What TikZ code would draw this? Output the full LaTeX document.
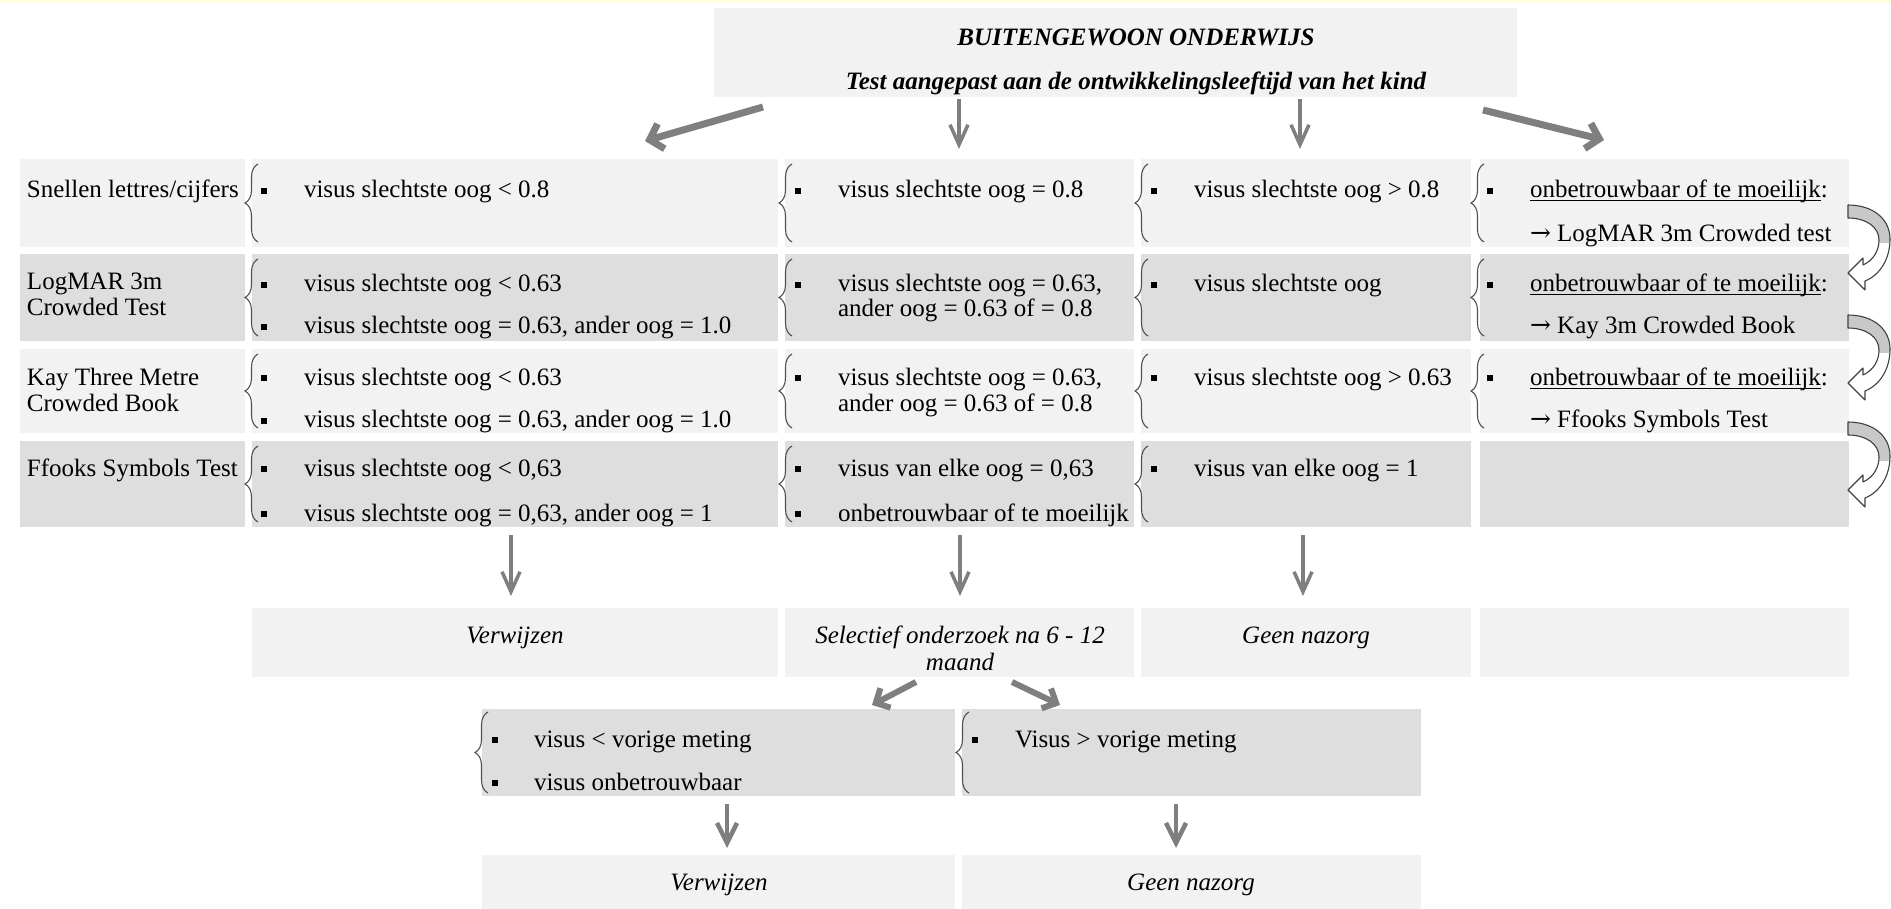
\documentclass[tikz,border=0pt]{standalone}
\usepackage{fontspec}
\setmainfont{Liberation Serif}
\newfontfamily\arrfont{DejaVu Serif}
\usetikzlibrary{arrows.meta,decorations.pathreplacing}
\definecolor{lightc}{HTML}{F2F2F2}
\definecolor{darkc}{HTML}{DEDEDE}
\definecolor{arrowc}{HTML}{7F7F7F}
\definecolor{bandc}{HTML}{FFFFE0}
\definecolor{bracec}{HTML}{505050}
\definecolor{foldc}{HTML}{C8C8C8}
\definecolor{curvec}{HTML}{404040}
\newcommand\mkcell[6]{\node[fill=#6,draw=none,inner sep=0pt,outer sep=0pt,anchor=north west,minimum width={(#4-#2)*1pt},minimum height={(#5-#3)*1pt}] (#1) at (#2,#3) {};}
\newcommand\bul[2]{\fill ({#1-2.8},{#2-2.8}) rectangle ({#1+2.8},{#2+2.8});}
\newcommand\brc[3]{\draw[bracestyle] (#1,#3) -- (#1,#2);}
\newcommand\ulnode[3]{%
\node[txt] (#1) at (#2) {#3};
\node[txt] (#1c) at (#1.base east) {:};
\draw[line width=1pt] ([yshift=-3pt]#1.base west) -- ([yshift=-3pt]#1.base east);}
\newcommand\curvarr[2]{%
\begin{scope}[shift={(#1,#2)}]
\path[fill=white] (0,0) .. controls (25,0) and (42,14) .. (42,34) .. controls (42,54) and (32,70) .. (17,76) -- (17,85) -- (0,68) -- (15,53) -- (15,60) .. controls (26,55) and (31,45) .. (31,35) .. controls (31,22) and (18,13) .. (0,13) -- cycle;
\begin{scope}
\clip (-2,-2) rectangle (50,38);
\fill[foldc] (0,0) .. controls (25,0) and (42,14) .. (42,34) .. controls (42,54) and (32,70) .. (17,76) -- (17,85) -- (0,68) -- (15,53) -- (15,60) .. controls (26,55) and (31,45) .. (31,35) .. controls (31,22) and (18,13) .. (0,13) -- cycle;
\end{scope}
\draw[draw=curvec,line width=1.1pt,line join=round] (0,0) .. controls (25,0) and (42,14) .. (42,34) .. controls (42,54) and (32,70) .. (17,76) -- (17,85) -- (0,68) -- (15,53) -- (15,60) .. controls (26,55) and (31,45) .. (31,35) .. controls (31,22) and (18,13) .. (0,13) -- cycle;
\end{scope}}
\begin{document}
\begin{tikzpicture}[x=1pt,y=-1pt,
 txt/.style={anchor=base west,inner sep=0pt,outer sep=0pt,font=\fontsize{25}{28}\selectfont},
 ctr/.style={anchor=base,inner sep=0pt,outer sep=0pt,font=\fontsize{25}{28}\selectfont\itshape},
 ttl/.style={anchor=base,inner sep=0pt,outer sep=0pt,font=\fontsize{25}{28}\selectfont\bfseries\itshape},
 bracestyle/.style={draw=bracec,line width=1.1pt,decorate,decoration={brace,amplitude=13pt}},
 varr/.style={draw=arrowc,line width=3.5pt,-{Straight Barb[length=20pt,width=18pt]}},
 darr/.style={draw=arrowc,line width=7pt,-{Straight Barb[length=12pt,width=26pt]}},
 marr/.style={draw=arrowc,line width=6pt,-{Straight Barb[length=11pt,width=22pt]}},
 sarr/.style={draw=arrowc,line width=4.5pt,-{Straight Barb[length=20pt,width=20pt]}}
]
\useasboundingbox (0,0) rectangle (1891,909);
\fill[white] (0,0) rectangle (1891,909);
\fill[bandc] (0,0) rectangle (1891,3);

% title
\mkcell{title}{714}{8}{1517}{97}{lightc}
\node[ttl] (t1) at (1136,46) {BUITENGEWOON ONDERWIJS};
\node[ttl] (t2) at (1136,90) {Test aangepast aan de ontwikkelingsleeftijd van het kind};

% cells
\mkcell{r1l}{20}{159}{245}{247}{lightc}
\mkcell{r1a}{252}{159}{778}{247}{lightc}
\mkcell{r1b}{785}{159}{1134}{247}{lightc}
\mkcell{r1c}{1141}{159}{1471}{247}{lightc}
\mkcell{r1d}{1480}{159}{1849}{247}{lightc}
\mkcell{r2l}{20}{254}{245}{341}{darkc}
\mkcell{r2a}{252}{254}{778}{341}{darkc}
\mkcell{r2b}{785}{254}{1134}{341}{darkc}
\mkcell{r2c}{1141}{254}{1471}{341}{darkc}
\mkcell{r2d}{1480}{254}{1849}{341}{darkc}
\mkcell{r3l}{20}{349}{245}{433}{lightc}
\mkcell{r3a}{252}{349}{778}{433}{lightc}
\mkcell{r3b}{785}{349}{1134}{433}{lightc}
\mkcell{r3c}{1141}{349}{1471}{433}{lightc}
\mkcell{r3d}{1480}{349}{1849}{433}{lightc}
\mkcell{r4l}{20}{441}{245}{527}{darkc}
\mkcell{r4a}{252}{441}{778}{527}{darkc}
\mkcell{r4b}{785}{441}{1134}{527}{darkc}
\mkcell{r4c}{1141}{441}{1471}{527}{darkc}
\mkcell{r4d}{1480}{441}{1849}{527}{darkc}
\mkcell{oa}{252}{608}{778}{677}{lightc}
\mkcell{ob}{785}{608}{1134}{677}{lightc}
\mkcell{oc}{1141}{608}{1471}{677}{lightc}
\mkcell{od}{1480}{608}{1849}{677}{lightc}
\mkcell{sl}{482}{709}{955}{796}{darkc}
\mkcell{sr}{962}{709}{1421}{796}{darkc}
\mkcell{fl}{482}{855}{955}{909}{lightc}
\mkcell{fr}{962}{855}{1421}{909}{lightc}

% braces
\foreach \yt/\yb in {159/247,254/341,349/433}{
  \brc{258}{\yt+5}{\yb-5}
  \brc{792}{\yt+5}{\yb-5}
  \brc{1148}{\yt+5}{\yb-5}
  \brc{1484}{\yt+5}{\yb-5}
}
\brc{258}{446}{522}
\brc{792}{446}{522}
\brc{1148}{446}{522}
\brc{488}{712}{793}
\brc{969}{712}{793}

% row 1
\node[txt] (l1) at (27,198) {Snellen lettres/cijfers};
\bul{264}{191}\node[txt] (a1) at (304,198) {visus slechtste oog < 0.8};
\bul{798}{191}\node[txt] (b1) at (838,198) {visus slechtste oog = 0.8};
\bul{1154}{191}\node[txt] (c1) at (1194,198) {visus slechtste oog > 0.8};
\bul{1490}{191}\ulnode{d1a}{1530,198}{onbetrouwbaar of te moeilijk}
\node[txt] (d1b) at (1530,242) {{\arrfont →} LogMAR 3m Crowded test};

% row 2
\node[txt] (l2a) at (27,290) {LogMAR 3m};
\node[txt] (l2b) at (27,316) {Crowded Test};
\bul{264}{285}\node[txt] (a2a) at (304,292) {visus slechtste oog < 0.63};
\bul{264}{327}\node[txt] (a2b) at (304,334) {visus slechtste oog = 0.63, ander oog = 1.0};
\bul{798}{285}\node[txt] (b2a) at (838,292) {visus slechtste oog = 0.63,};
\node[txt] (b2b) at (838,317) {ander oog = 0.63 of = 0.8};
\bul{1154}{285}\node[txt] (c2) at (1194,292) {visus slechtste oog};
\bul{1490}{285}\ulnode{d2a}{1530,292}{onbetrouwbaar of te moeilijk}
\node[txt] (d2b) at (1530,334) {{\arrfont →} Kay 3m Crowded Book};

% row 3
\node[txt] (l3a) at (27,385) {Kay Three Metre};
\node[txt] (l3b) at (27,411) {Crowded Book};
\bul{264}{378}\node[txt] (a3a) at (304,385) {visus slechtste oog < 0.63};
\bul{264}{421}\node[txt] (a3b) at (304,428) {visus slechtste oog = 0.63, ander oog = 1.0};
\bul{798}{378}\node[txt] (b3a) at (838,385) {visus slechtste oog = 0.63,};
\node[txt] (b3b) at (838,411) {ander oog = 0.63 of = 0.8};
\bul{1154}{378}\node[txt] (c3) at (1194,385) {visus slechtste oog > 0.63};
\bul{1490}{378}\ulnode{d3a}{1530,385}{onbetrouwbaar of te moeilijk}
\node[txt] (d3b) at (1530,428) {{\arrfont →} Ffooks Symbols Test};

% row 4
\node[txt] (l4) at (27,476) {Ffooks Symbols Test};
\bul{264}{469}\node[txt] (a4a) at (304,476) {visus slechtste oog < 0,63};
\bul{264}{514}\node[txt] (a4b) at (304,521) {visus slechtste oog = 0,63, ander oog = 1};
\bul{798}{469}\node[txt] (b4a) at (838,476) {visus van elke oog = 0,63};
\bul{798}{514}\node[txt] (b4b) at (838,521) {onbetrouwbaar of te moeilijk};
\bul{1154}{469}\node[txt] (c4) at (1194,476) {visus van elke oog = 1};

% outcomes
\node[ctr] (oat) at (515,643) {Verwijzen};
\node[ctr] (obt1) at (960,643) {Selectief onderzoek na 6 - 12};
\node[ctr] (obt2) at (960,670) {maand};
\node[ctr] (oct) at (1306,643) {Geen nazorg};

% second level
\bul{495}{740}\node[txt] (sl1) at (534,747) {visus < vorige meting};
\bul{495}{783}\node[txt] (sl2) at (534,790) {visus onbetrouwbaar};
\bul{975}{740}\node[txt] (sr1) at (1015,747) {Visus > vorige meting};

% final
\node[ctr] (flt) at (719,890) {Verwijzen};
\node[ctr] (frt) at (1191,890) {Geen nazorg};

% arrow coordinates
\coordinate (ta1s) at (763,107); \coordinate (ta1e) at (645,141);
\coordinate (ta2s) at (959,99);  \coordinate (ta2e) at (959,149);
\coordinate (ta3s) at (1300,99); \coordinate (ta3e) at (1300,149);
\coordinate (ta4s) at (1483,110); \coordinate (ta4e) at (1604,140);
\coordinate (ba1s) at (511,535); \coordinate (ba1e) at (511,596);
\coordinate (ba2s) at (960,535); \coordinate (ba2e) at (960,596);
\coordinate (ba3s) at (1303,535); \coordinate (ba3e) at (1303,596);
\coordinate (ma1s) at (916,682); \coordinate (ma1e) at (872,705);
\coordinate (ma2s) at (1012,682); \coordinate (ma2e) at (1060,705);
\coordinate (sa1s) at (727,804); \coordinate (sa1e) at (727,848);
\coordinate (sa2s) at (1176,804); \coordinate (sa2e) at (1176,848);

\draw[darr] (ta1s) -- (ta1e);
\draw[varr] (ta2s) -- (ta2e);
\draw[varr] (ta3s) -- (ta3e);
\draw[darr] (ta4s) -- (ta4e);
\draw[varr] (ba1s) -- (ba1e);
\draw[varr] (ba2s) -- (ba2e);
\draw[varr] (ba3s) -- (ba3e);
\draw[marr] (ma1s) -- (ma1e);
\draw[marr] (ma2s) -- (ma2e);
\draw[sarr] (sa1s) -- (sa1e);
\draw[sarr] (sa2s) -- (sa2e);

% curved block arrows
\curvarr{1848}{205}
\curvarr{1848}{315}
\curvarr{1848}{422}
\end{tikzpicture}
\end{document}
